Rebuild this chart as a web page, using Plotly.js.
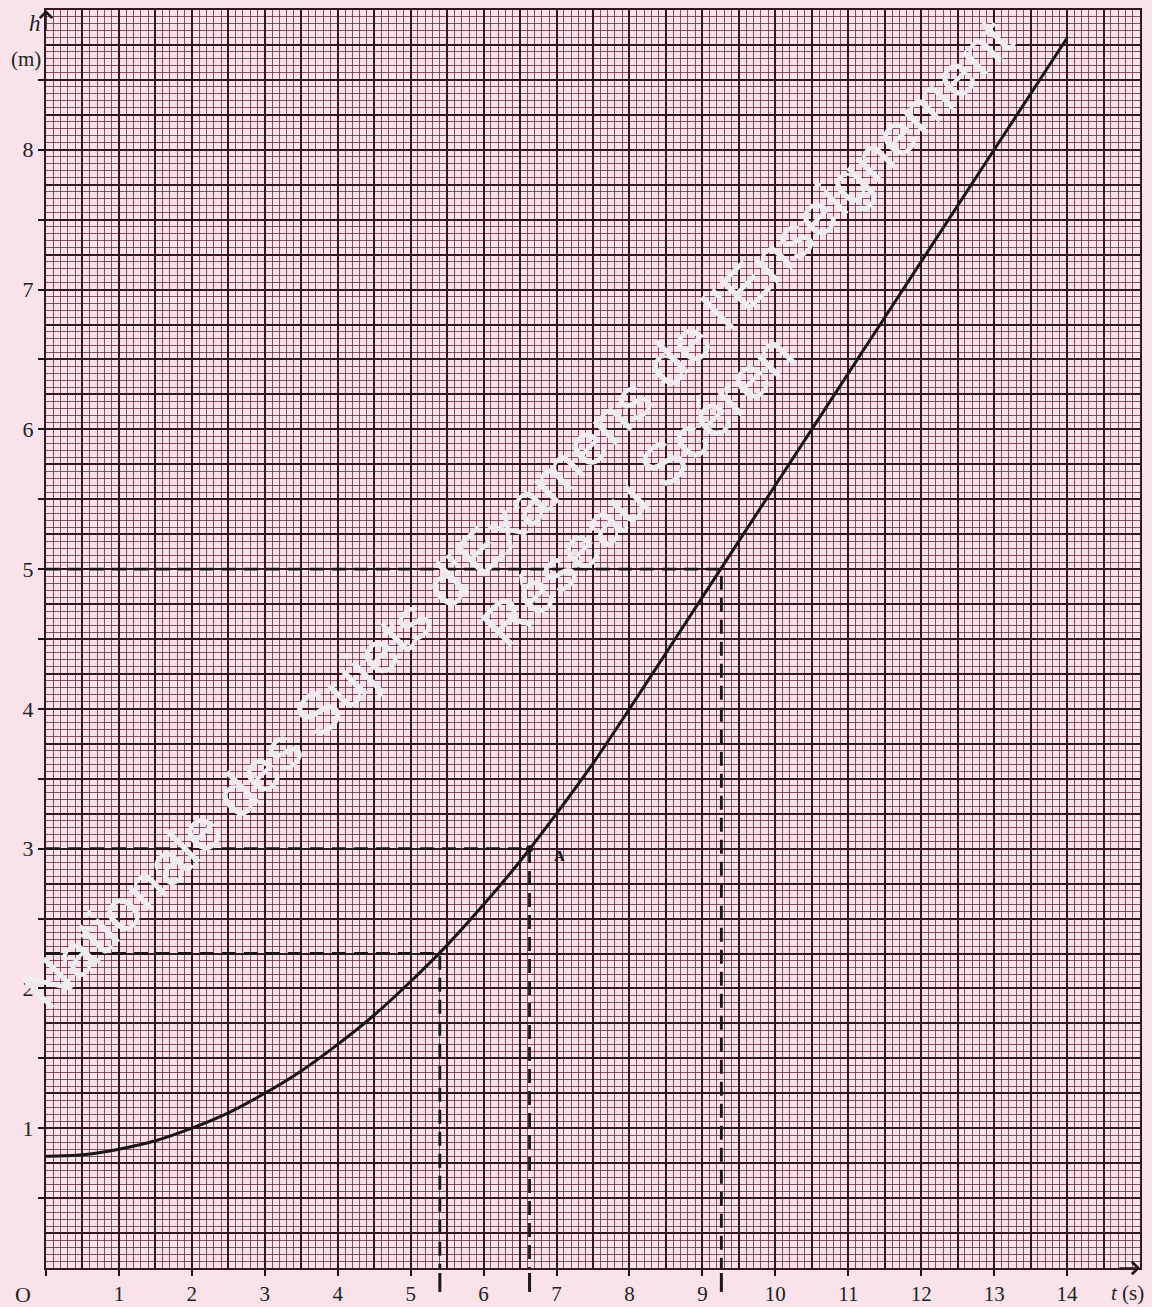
<!DOCTYPE html>
<html>
<head>
<meta charset="utf-8">
<script src="https://cdn.plot.ly/plotly-3.0.1.min.js"></script>
<style>html,body{margin:0;padding:0;background:#f9e2ea;}#chart{width:1152px;height:1307px;}</style>
</head>
<body>
<div id="chart"></div>
<script>
// ---- data ----
const t = [0, 0.5, 1, 1.5, 2, 2.5, 3, 3.5, 4, 4.5, 5, 5.5, 6, 6.5, 7, 7.5, 8, 9, 10, 11, 12, 13, 14];
const h = [0.80, 0.81, 0.85, 0.91, 1.00, 1.11, 1.25, 1.41, 1.60, 1.81, 2.05, 2.31, 2.60, 2.91, 3.25, 3.61, 4.00, 4.80, 5.60, 6.40, 7.20, 8.00, 8.80];

// dashed read-off lines (t, h)
const refT = [5.4, 6.63, 9.26];
const refH = [2.25, 3.0, 5.0];

// point A
const pointT = [6.63];
const pointH = [3.0];
const pointLabel = ['A'];

// ticks
const xTickVals = [0, 1, 2, 3, 4, 5, 6, 7, 8, 9, 10, 11, 12, 13, 14];
const xTickText = ['', '1', '2', '3', '4', '5', '6', '7', '8', '9', '10', '11', '12', '13', '14'];
const yTickVals = [0.5, 1, 1.5, 2, 2.5, 3, 3.5, 4, 4.5, 5, 5.5, 6, 6.5, 7, 7.5, 8, 8.5];
const yTickText = ['', '1', '', '2', '', '3', '', '4', '', '5', '', '6', '', '7', '', '8', ''];

const watermark = ["Nationale des Sujets d'Examens de l'Enseignement", 'Réseau Scéren'];

// ---- styles ----
const INK = '#1c1417';
const MAJOR = '#361620';
const MINOR = 'rgba(100,45,65,0.8)';
const BG = '#f9e2ea';
const SERIF = 'Liberation Serif, Times New Roman, serif';

const traces = [];
traces.push({
  x: t, y: h, type: 'scatter', mode: 'lines',
  line: {color: INK, width: 3, shape: 'spline', smoothing: 0.8},
  xaxis: 'x', yaxis: 'y', hoverinfo: 'skip', showlegend: false
});
for (let i = 0; i < refT.length; i++) {
  traces.push({
    x: [0, refT[i], refT[i]], y: [refH[i], refH[i], 0],
    type: 'scatter', mode: 'lines',
    line: {color: INK, width: 2.8, dash: '14px,8px'},
    xaxis: 'x2', yaxis: 'y2', hoverinfo: 'skip', showlegend: false
  });
}
traces.push({
  x: pointT, y: pointH, type: 'scatter', mode: 'markers',
  marker: {symbol: 'circle', size: 7, color: INK},
  xaxis: 'x2', yaxis: 'y2', hoverinfo: 'skip', showlegend: false
});

// stubs of the dashed verticals below the axis
const shapes = refT.map(v => ({
  type: 'line', xref: 'x', yref: 'paper', x0: v, x1: v, y0: -0.004, y1: -0.019,
  line: {color: INK, width: 3}, layer: 'above'
}));

const wmFont = {family: 'Liberation Sans, Arial, sans-serif', size: 60, color: 'rgb(238,236,238)'};
const annotations = [
  {xref: 'x', yref: 'y', x: 6.47, y: 5.40, text: watermark[0], showarrow: false, textangle: -45, font: wmFont},
  {xref: 'x', yref: 'y', x: 8.12, y: 5.57, text: watermark[1], showarrow: false, textangle: -45, font: wmFont},
  {xref: 'x', yref: 'y', x: pointT[0], y: pointH[0], xshift: 30, yshift: -7, text: '<b>' + pointLabel[0] + '</b>',
   showarrow: false, font: {family: SERIF, size: 15, color: INK}},
  // axis arrows
  {xref: 'x', yref: 'y', x: 15, y: 0, ax: -22, ay: 0, text: '', showarrow: true,
   arrowhead: 4, arrowsize: 1.6, arrowwidth: 1.5, arrowcolor: INK},
  {xref: 'x', yref: 'y', x: 0, y: 9, ax: 0, ay: 22, text: '', showarrow: true,
   arrowhead: 4, arrowsize: 1.6, arrowwidth: 1.5, arrowcolor: INK},
  // axis names
  {xref: 'paper', yref: 'paper', x: -0.010, y: 0.989, xanchor: 'center', yanchor: 'middle', text: '<i>h</i>', showarrow: false,
   font: {family: SERIF, size: 23, color: '#222'}},
  {xref: 'paper', yref: 'paper', x: -0.018, y: 0.961, xanchor: 'center', yanchor: 'middle', text: '(m)', showarrow: false,
   font: {family: SERIF, size: 21, color: '#222'}},
  {xref: 'paper', yref: 'paper', x: -0.021, y: -0.0207, xanchor: 'center', yanchor: 'middle', text: 'O', showarrow: false,
   font: {family: SERIF, size: 22, color: '#222'}},
  {xref: 'paper', yref: 'paper', x: 0.989, y: -0.0199, xanchor: 'center', yanchor: 'middle', text: '<i>t</i> (s)', showarrow: false,
   font: {family: SERIF, size: 21, color: '#222'}}
];

const gridAxis = (range, dtick, minorDtick) => ({
  range: range, dtick: dtick, tick0: 0, showgrid: true, gridcolor: MAJOR, gridwidth: 2,
  showticklabels: false, ticks: '', zeroline: false,
  showline: true, linecolor: MAJOR, linewidth: 2, mirror: true, fixedrange: true,
  minor: {dtick: minorDtick, tick0: 0, showgrid: true, gridcolor: MINOR, gridwidth: 1, ticks: ''}
});

const layout = {
  width: 1152, height: 1307,
  margin: {l: 46, r: 12, t: 10, b: 39, pad: 0},
  paper_bgcolor: BG, plot_bgcolor: BG,
  showlegend: false,
  xaxis: gridAxis([0, 15], 0.5, 0.1),
  yaxis: gridAxis([0, 9], 0.25, 0.05),
  xaxis2: {
    overlaying: 'x', anchor: 'y2', side: 'bottom', range: [0, 15],
    tickmode: 'array', tickvals: xTickVals, ticktext: xTickText,
    ticks: 'outside', ticklen: 7, tickwidth: 2, tickcolor: INK,
    showgrid: false, zeroline: false, showline: false, fixedrange: true,
    ticklabelstandoff: 0,
    tickfont: {family: SERIF, size: 21, color: '#222'}
  },
  yaxis2: {
    overlaying: 'y', anchor: 'x2', side: 'left', range: [0, 9],
    tickmode: 'array', tickvals: yTickVals, ticktext: yTickText,
    ticks: 'outside', ticklen: 7, tickwidth: 2, tickcolor: INK,
    showgrid: false, zeroline: false, showline: false, fixedrange: true,
    tickfont: {family: SERIF, size: 22, color: '#222'}
  },
  shapes: shapes,
  annotations: annotations
};

Plotly.newPlot('chart', traces, layout, {displayModeBar: false, staticPlot: true});
</script>
</body>
</html>
